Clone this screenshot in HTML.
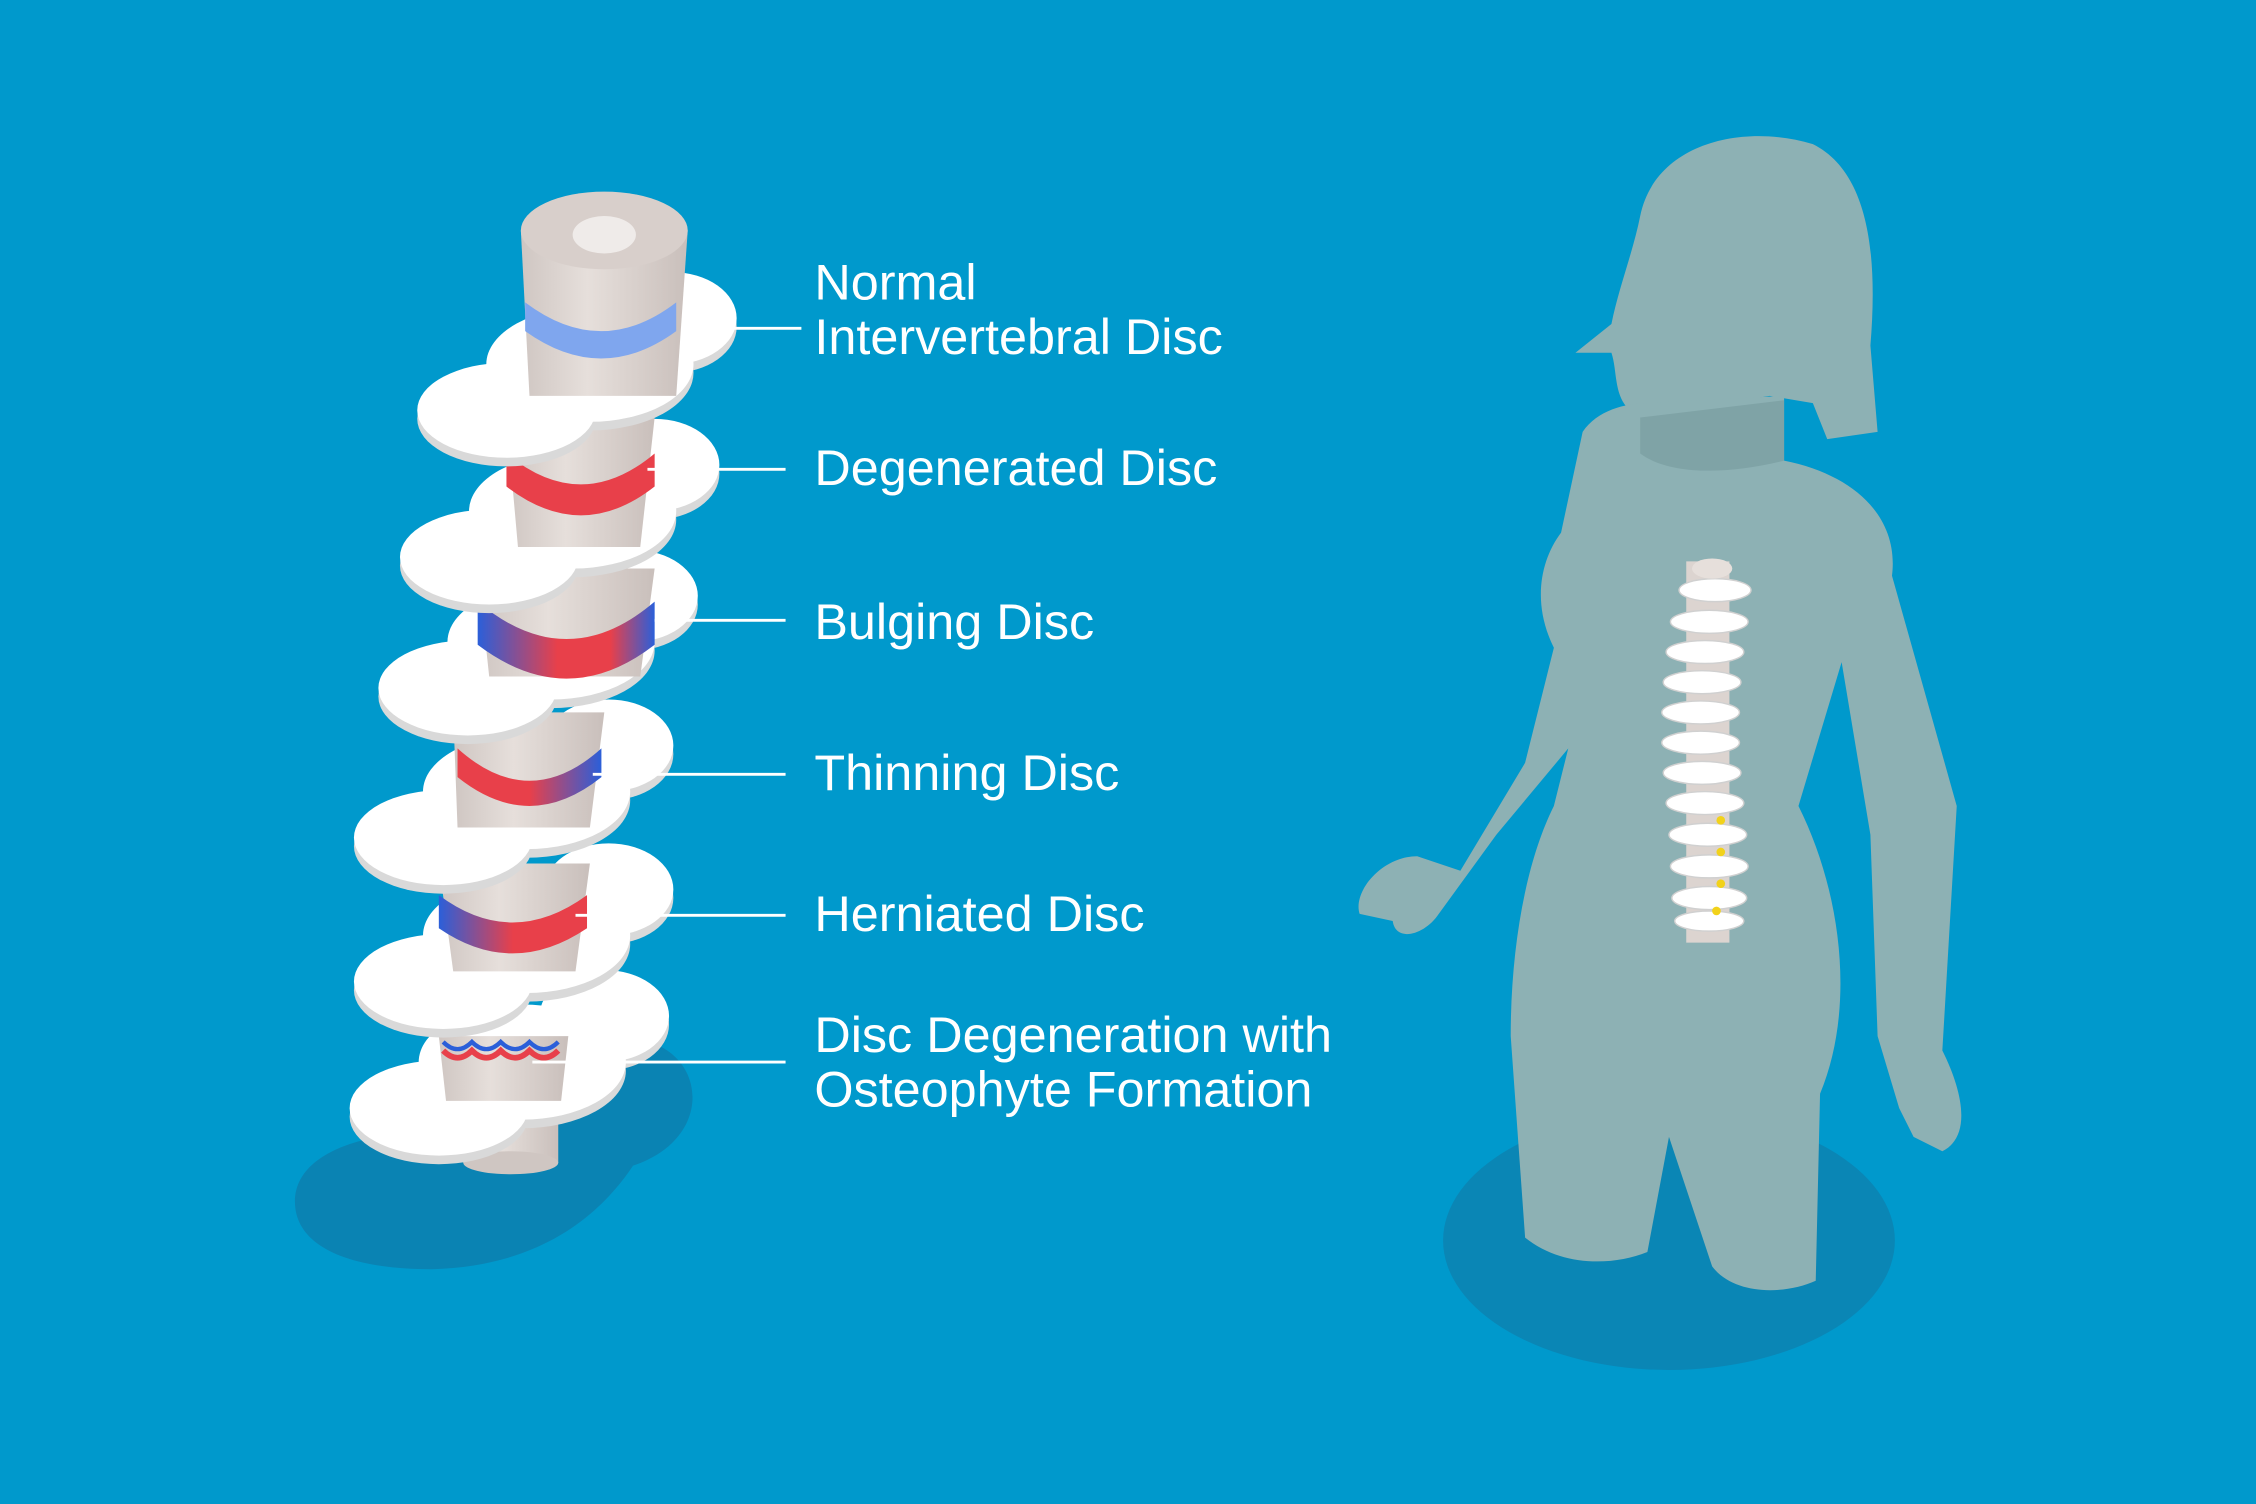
<!DOCTYPE html>
<html><head><meta charset="utf-8"><style>
html,body{margin:0;padding:0;background:#0099CC;}
svg{display:block}
</style></head><body>
<svg width="2256" height="1504" viewBox="0 0 1568 1045" xmlns="http://www.w3.org/2000/svg">
<defs>
<linearGradient id="rb" x1="0" x2="1"><stop offset="0" stop-color="#2B5FD9"/><stop offset="0.45" stop-color="#E8404A"/><stop offset="0.75" stop-color="#E8404A"/><stop offset="1" stop-color="#2B5FD9"/></linearGradient>
<linearGradient id="rb2" x1="0" x2="1"><stop offset="0" stop-color="#E8404A"/><stop offset="0.5" stop-color="#E8404A"/><stop offset="1" stop-color="#2B5FD9"/></linearGradient>
<linearGradient id="br" x1="0" x2="1"><stop offset="0" stop-color="#2B5FD9"/><stop offset="0.5" stop-color="#E8404A"/><stop offset="1" stop-color="#E8404A"/></linearGradient>
<linearGradient id="bone" x1="0" x2="1"><stop offset="0" stop-color="#CFC6C2"/><stop offset="0.4" stop-color="#E6DFDB"/><stop offset="1" stop-color="#C9BFBB"/></linearGradient>
<g id="plate">
 <ellipse cx="0" cy="6" rx="62" ry="33" fill="#D9D9D9"/>
 <ellipse cx="115" cy="-58" rx="45" ry="32" fill="#D9D9D9"/>
 <ellipse cx="58" cy="-26" rx="72" ry="40" fill="#D9D9D9"/>
 <ellipse cx="0" cy="0" rx="62" ry="33" fill="#fff"/>
 <ellipse cx="115" cy="-64" rx="45" ry="32" fill="#fff"/>
 <ellipse cx="58" cy="-32" rx="72" ry="40" fill="#fff"/>
</g>
</defs>
<rect width="1568" height="1045" fill="#0099CC"/>
<path d="M205,835 C205,790 290,780 340,790 C360,760 390,720 440,722 C490,726 500,790 440,810 C420,840 380,880 300,882 C240,882 205,865 205,835Z" fill="#0A83B3"/>
<ellipse cx="1160" cy="862" rx="157" ry="90" fill="#0A86B5"/>

<rect x="322" y="775" width="66" height="33" fill="url(#bone)"/>
<ellipse cx="355" cy="808" rx="33" ry="8" fill="#CFC6C2"/>
<use href="#plate" x="305" y="770"/>
<path d="M305,720 L395,720 L390,765 L310,765Z" fill="url(#bone)"/>
<path d="M308,730 q10,10 20,0 q10,10 20,0 q10,10 20,0 q10,10 20,0" stroke="#E8404A" stroke-width="4" fill="none"/>
<path d="M308,724 q10,10 20,0 q10,10 20,0 q10,10 20,0 q10,10 20,0" stroke="#2B5FD9" stroke-width="3" fill="none"/>
<use href="#plate" x="308" y="682"/>
<path d="M305,600 L410,600 L400,675 L315,675Z" fill="url(#bone)"/>
<path d="M305,622 Q356,660 408,622 L408,645 Q356,680 305,645Z" fill="url(#br)"/>
<use href="#plate" x="308" y="582"/>
<path d="M315,495 L420,495 L410,575 L318,575Z" fill="url(#bone)"/>
<path d="M318,520 Q368,565 418,520 L418,540 Q368,580 318,540Z" fill="url(#rb2)"/>
<use href="#plate" x="325" y="478"/>
<path d="M332,395 L455,395 L445,470 L340,470Z" fill="url(#bone)"/>
<path d="M332,418 Q394,470 455,418 L455,448 Q394,495 332,448Z" fill="url(#rb)"/>
<use href="#plate" x="340" y="387"/>
<path d="M352,290 L455,290 L445,380 L360,380Z" fill="url(#bone)"/>
<path d="M352,315 Q404,358 455,315 L455,338 Q404,378 352,338Z" fill="#E8404A"/>
<use href="#plate" x="352" y="285"/>
<path d="M362,160 L478,160 L470,275 L368,275Z" fill="url(#bone)"/>
<path d="M365,210 Q418,250 470,210 L470,230 Q418,268 365,230Z" fill="#7FA6EE"/>
<ellipse cx="420" cy="160" rx="58" ry="27" fill="#D8CFCB"/>
<ellipse cx="420" cy="163" rx="22" ry="13" fill="#EFEBE9"/>

<g stroke="#fff" stroke-width="2">
<line x1="505" y1="228" x2="557" y2="228"/>
<line x1="450" y1="326" x2="546" y2="326"/>
<line x1="455" y1="431" x2="546" y2="431"/>
<line x1="412" y1="538" x2="546" y2="538"/>
<line x1="400" y1="636" x2="546" y2="636"/>
<line x1="370" y1="738" x2="546" y2="738"/>
</g>
<g fill="#fff" font-family="Liberation Sans, sans-serif" font-size="35">
<text x="566" y="208">Normal</text>
<text x="566" y="246">Intervertebral Disc</text>
<text x="566" y="337">Degenerated Disc</text>
<text x="566" y="444">Bulging Disc</text>
<text x="566" y="549">Thinning Disc</text>
<text x="566" y="647">Herniated Disc</text>
<text x="566" y="731">Disc Degeneration with</text>
<text x="566" y="769">Osteophyte Formation</text>
</g>

<g fill="#8DB1B4">
<path d="M1140,150 C1150,100 1210,85 1260,100 C1300,120 1305,180 1300,240 L1305,300 L1270,305 L1260,280 L1230,275 L1140,290 C1120,280 1125,260 1120,245 L1095,245 L1120,225 C1125,200 1135,175 1140,150Z"/>
<path d="M1145,280 L1240,275 L1240,320 C1290,330 1320,360 1315,400 L1360,560 L1350,730 C1365,760 1370,790 1350,800 L1330,790 L1320,770 L1305,720 L1300,580 L1280,460 L1250,560 C1280,620 1290,700 1265,760 L1262,890 C1240,900 1205,900 1190,880 L1160,790 L1145,870 C1120,880 1085,880 1060,860 L1050,720 C1050,660 1060,600 1080,560 L1090,520 L1040,580 L1000,635 C990,650 970,655 968,640 L945,635 C940,620 960,595 985,595 L1015,605 L1060,530 L1080,450 C1065,420 1070,390 1085,370 L1100,300 C1110,285 1130,280 1145,280Z"/>
</g>
<path d="M1140,290 L1240,278 L1240,320 C1200,330 1160,330 1140,315Z" fill="#7FA3A6"/>
<g>
<rect x="1172" y="390" width="30" height="265" fill="#DCD4D0"/>
<g fill="#fff" stroke="#D0D0D0" stroke-width="1">
<ellipse cx="1192" cy="410" rx="25" ry="8"/><ellipse cx="1188" cy="432" rx="27" ry="8"/>
<ellipse cx="1185" cy="453" rx="27" ry="8"/><ellipse cx="1183" cy="474" rx="27" ry="8"/>
<ellipse cx="1182" cy="495" rx="27" ry="8"/><ellipse cx="1182" cy="516" rx="27" ry="8"/>
<ellipse cx="1183" cy="537" rx="27" ry="8"/><ellipse cx="1185" cy="558" rx="27" ry="8"/>
<ellipse cx="1187" cy="580" rx="27" ry="8"/><ellipse cx="1188" cy="602" rx="27" ry="8"/>
<ellipse cx="1188" cy="624" rx="26" ry="8"/><ellipse cx="1188" cy="640" rx="24" ry="7"/>
</g>
<ellipse cx="1190" cy="395" rx="14" ry="7" fill="#E6DFDB"/>
<g fill="#F2D21A"><circle cx="1196" cy="570" r="3"/><circle cx="1196" cy="592" r="3"/><circle cx="1196" cy="614" r="3"/><circle cx="1193" cy="633" r="3"/></g>
</g>
</svg>
</body></html>
